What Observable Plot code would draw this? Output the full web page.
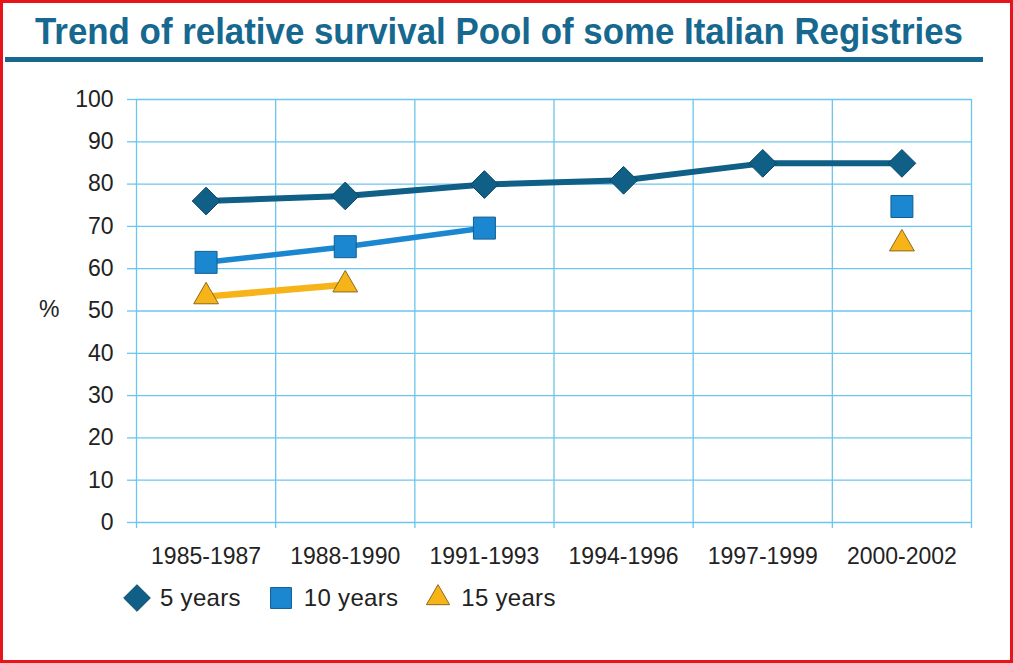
<!DOCTYPE html>
<html>
<head>
<meta charset="utf-8">
<script src="https://cdn.jsdelivr.net/npm/d3@7"></script>
<script src="https://cdn.jsdelivr.net/npm/@observablehq/plot@0.6"></script>
<style>
  html, body { margin: 0; padding: 0; background: #fff; }
  #page { position: relative; width: 1013px; height: 663px; overflow: hidden; background: #fff;
          font-family: "Liberation Sans", Arial, sans-serif; color: #222; }
  #frame { position: absolute; left: 0; top: 0; width: 1013px; height: 663px; box-sizing: border-box;
           border: 3px solid #e8141b; pointer-events: none; }
  #title { position: absolute; left: 35px; top: 11px; font-family: "Liberation Sans", Arial, sans-serif;
           font-weight: bold; font-size: 37px; color: #16688f; white-space: nowrap; transform-origin: 0 0; }
  #rule { position: absolute; left: 5px; top: 57px; width: 978px; height: 5px; background: #16688f; }
  #chart { position: absolute; left: 0; top: 70px; }
  #pct { position: absolute; left: 39px; top: 296px; font-size: 23px; }
  #legend { position: absolute; left: 121px; top: 582px; display: flex; align-items: center; font-size: 24px; }
  #legend .item { display: flex; align-items: center; margin-right: 24px; }
  #legend svg { margin-right: 7px; }
  #legend span { letter-spacing: 0.3px; }
</style>
</head>
<body>
<div id="page">
  <div id="title"></div>
  <div id="rule"></div>
  <div id="chart"></div>
  <div id="pct">%</div>
  <div id="legend"></div>
  <div id="frame"></div>
</div>
<script>
const titleText = "Trend of relative survival Pool of some Italian Registries";
const categories = ["1985-1987", "1988-1990", "1991-1993", "1994-1996", "1997-1999", "2000-2002"];
const fiveYears = [76, 77.2, 79.9, 80.9, 84.9, 84.9];
const tenYears = [61.5, 65.2, 69.6, null, null, 74.7];
const fifteenYears = [53.4, 56.2, null, null, null, 65.9];
const yTicks = [0, 10, 20, 30, 40, 50, 60, 70, 80, 90, 100];
const seriesNames = ["5 years", "10 years", "15 years"];

const gridColor = "#6cc5ee";
const styles = [
  {values: fiveYears, line: "#0f5f86", lineWidth: 6, fill: "#0f5f86", stroke: "#0a4866", symbol: "diamond2", r: 12.5, legendR: 12},
  {values: tenYears, line: "#1a87d0", lineWidth: 5.5, fill: "#1a87d0", stroke: "#115f92", symbol: "square", r: 12.4, legendR: 11.8},
  {values: fifteenYears, line: "#f6b418", lineWidth: 6.5, fill: "#f6b418", stroke: "#8c6a17", symbol: "triangle", r: 9.2, legendR: 8.6}
];

const titleEl = document.getElementById("title");
titleEl.textContent = titleText;
const tw = titleEl.getBoundingClientRect().width;
titleEl.style.transform = `scaleX(${928 / tw})`;

const idx = categories.map((c, i) => i);
const bounds = categories.map((c, i) => i - 0.5).concat([categories.length - 0.5]);

const marks = [
  Plot.gridY(yTicks, {stroke: gridColor, strokeOpacity: 1, strokeWidth: 1.3}),
  Plot.gridX(bounds, {stroke: gridColor, strokeOpacity: 1, strokeWidth: 1.3}),
  Plot.axisY(yTicks, {tickSize: 9, tickPadding: 14, stroke: gridColor, strokeWidth: 1.3, fill: "#222", label: null, fontSize: 23}),
  Plot.axisX(bounds, {tickSize: 6, stroke: gridColor, strokeWidth: 1.3, tickFormat: () => "", label: null}),
  Plot.axisX(idx, {tickSize: 0, tickPadding: 25, tickFormat: i => categories[i], label: null, fontSize: 23, fill: "#222"})
];
for (const s of styles) {
  marks.push(Plot.line(s.values, {x: (d, i) => i, y: d => d, stroke: s.line, strokeWidth: s.lineWidth, curve: "linear"}));
}
for (const s of styles) {
  marks.push(Plot.dot(s.values, {x: (d, i) => i, y: d => d, symbol: s.symbol, r: s.r, fill: s.fill, stroke: s.stroke, strokeWidth: 1}));
}

const chart = Plot.plot({
  width: 1013,
  height: 520,
  marginLeft: 136,
  marginRight: 42,
  marginTop: 29,
  marginBottom: 68,
  x: {type: "linear", domain: [-0.5, categories.length - 0.5]},
  y: {domain: [0, 100]},
  style: {fontFamily: "'Liberation Sans', Arial, sans-serif", fontSize: "23px", color: "#222", background: "transparent"},
  marks
});
document.getElementById("chart").appendChild(chart);

// legend
const legend = d3.select("#legend");
const symMap = {diamond2: d3.symbolDiamond2, square: d3.symbolSquare, triangle: d3.symbolTriangle};
styles.forEach((s, k) => {
  const item = legend.append("div").attr("class", "item");
  const svg = item.append("svg").attr("width", 32).attr("height", 32);
  svg.append("path")
    .attr("transform", "translate(16,16)")
    .attr("d", d3.symbol(symMap[s.symbol], Math.PI * s.legendR * s.legendR)())
    .attr("fill", s.fill).attr("stroke", s.stroke).attr("stroke-width", 1);
  item.append("span").text(seriesNames[k]);
});
</script>
</body>
</html>
